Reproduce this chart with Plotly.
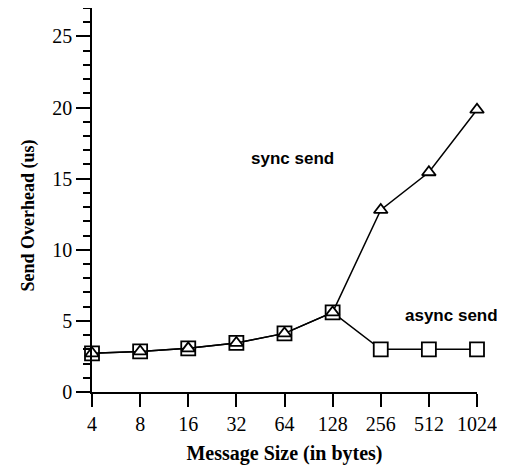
import plotly.graph_objects as go

sizes = ["4", "8", "16", "32", "64", "128", "256", "512", "1024"]
sync_send = [2.72, 2.85, 3.07, 3.45, 4.12, 5.6, 12.8, 15.45, 19.85]
async_send = [2.72, 2.85, 3.07, 3.45, 4.12, 5.6, 3.0, 3.0, 3.0]

fig = go.Figure()
fig.add_trace(go.Scatter(
    x=list(range(len(sizes))), y=async_send, mode="lines+markers", name="async send",
    line=dict(color="black", width=1.5),
    marker=dict(symbol="square", size=14, color="white", line=dict(width=1.8, color="black")),
    cliponaxis=False,
))
fig.add_trace(go.Scatter(
    x=list(range(len(sizes))), y=sync_send, mode="lines+markers", name="sync send",
    line=dict(color="black", width=1.5),
    marker=dict(symbol="triangle-up", size=12, color="white", line=dict(width=1.8, color="black")),
    cliponaxis=False,
))

serif = "Liberation Serif, Times New Roman, serif"
tick_font = dict(family=serif, size=20, color="black")
xtitle_font = dict(family=serif, size=20, color="black")
ytitle_font = dict(family=serif, size=18, color="black")

fig.update_layout(
    width=497, height=460,
    margin=dict(l=84, r=28, t=0, b=76),
    plot_bgcolor="white", paper_bgcolor="white",
    showlegend=False,
    xaxis=dict(
        range=[0, 8], showgrid=False, zeroline=False,
        tickmode="array", tickvals=list(range(len(sizes))), ticktext=sizes,
        showline=True, linecolor="black", linewidth=1.5,
        ticks="outside", ticklen=13, tickwidth=1.5, tickcolor="black",
        tickfont=tick_font,
        title=dict(text="<b>Message Size (in bytes)</b>", font=xtitle_font, standoff=12),
    ),
    yaxis=dict(
        range=[0, 27], showgrid=False, zeroline=False,
        showline=True, linecolor="black", linewidth=1.5,
        tickvals=[0, 5, 10, 15, 20, 25],
        ticks="outside", ticklen=14, tickwidth=1.5, tickcolor="black",
        tickfont=tick_font,
        minor=dict(ticks="outside", ticklen=7, tickwidth=1.5, tickcolor="black", dtick=1, showgrid=False),
    ),
)

fig.add_annotation(
    text="<b>Send Overhead (us)</b>", textangle=-90,
    xref="paper", yref="paper", x=-0.166, y=0.46,
    xanchor="center", yanchor="middle", showarrow=False, font=ytitle_font,
)
ann_font = dict(family="Liberation Sans, Arial, sans-serif", size=17, color="black")
fig.add_annotation(text="<b>sync send</b>", x=4.17, y=16.4, xref="x", yref="y",
                   xanchor="center", yanchor="middle", showarrow=False, font=ann_font)
fig.add_annotation(text="<b>async send</b>", x=7.48, y=5.4, xref="x", yref="y",
                   xanchor="center", yanchor="middle", showarrow=False, font=ann_font)

fig.write_html("out.html")
